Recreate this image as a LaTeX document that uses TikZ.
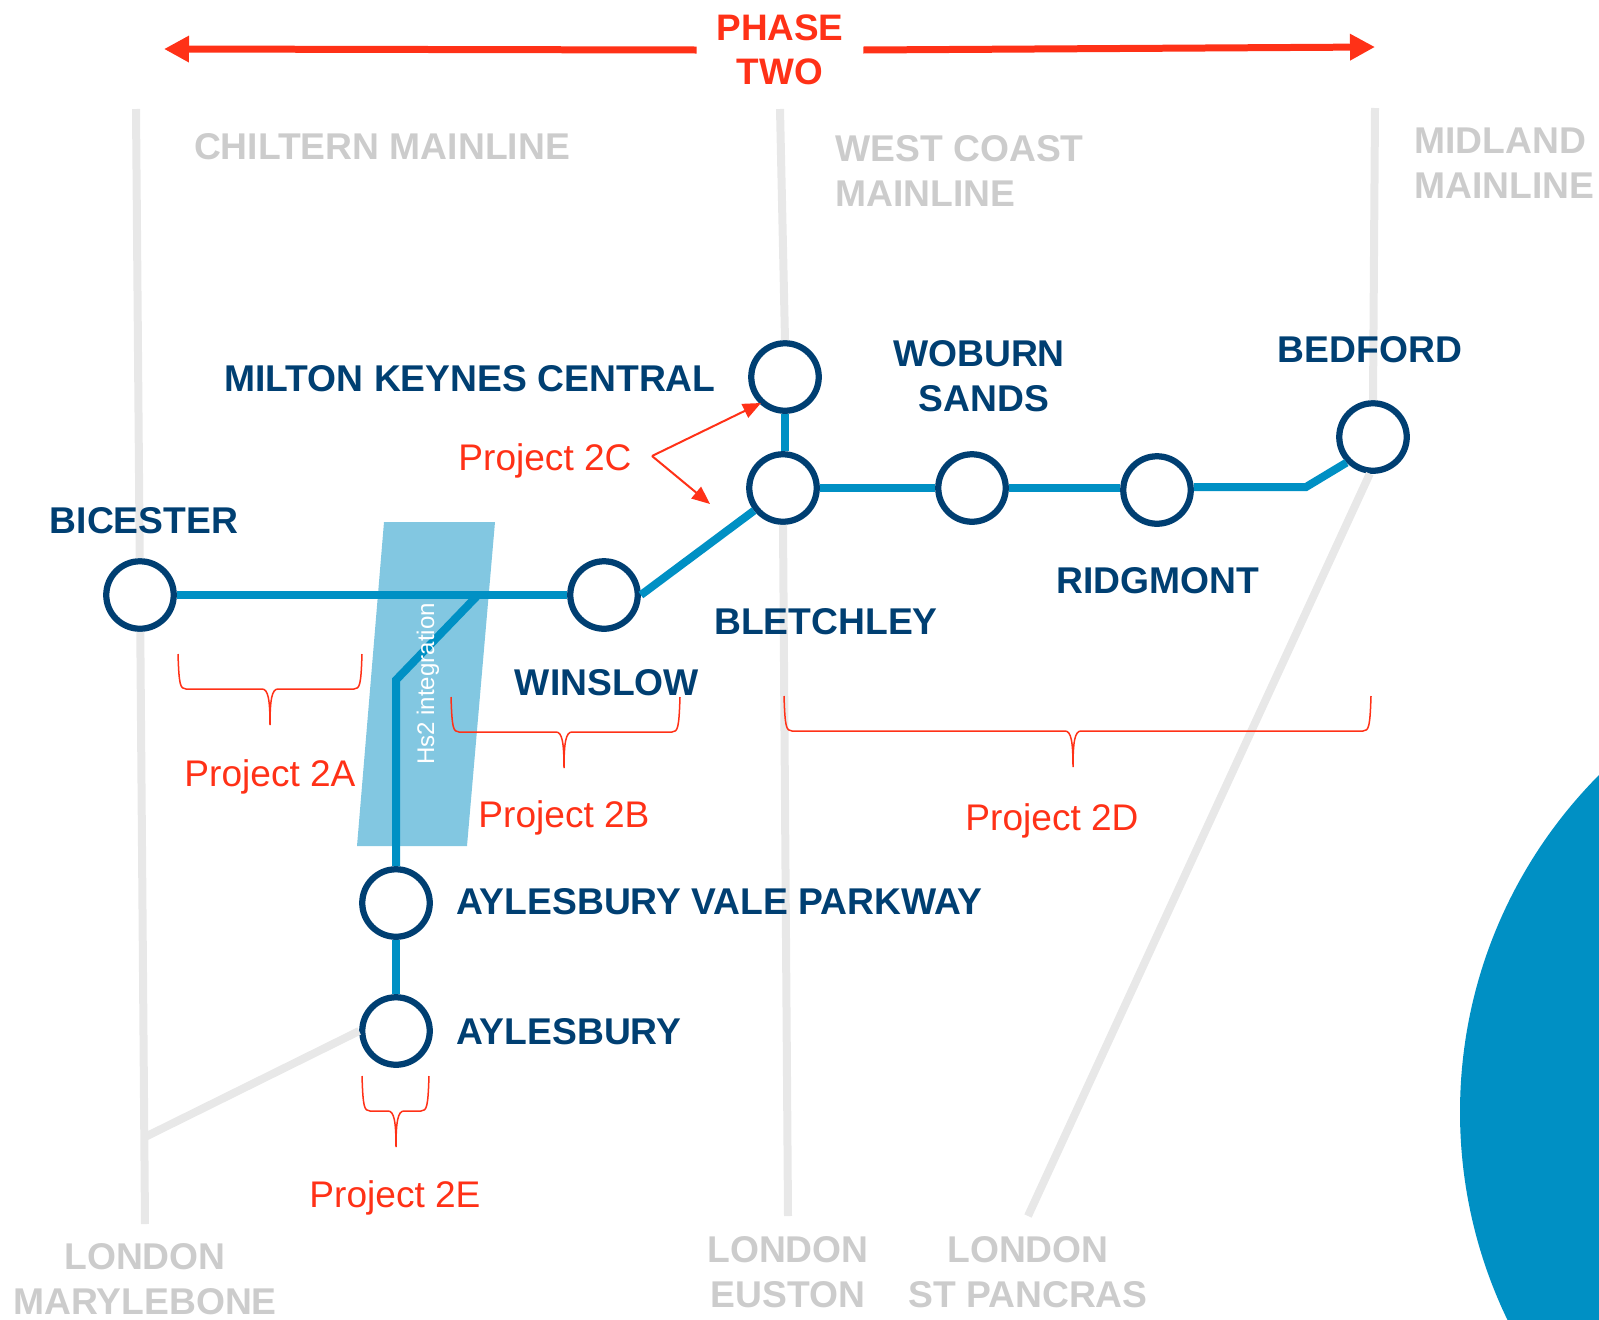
\documentclass[tikz,border=0pt]{standalone}
\usepackage{fontspec}
\setmainfont{Liberation Sans}
\usetikzlibrary{arrows.meta}
\definecolor{navy}{HTML}{003F72}
\definecolor{lineblue}{HTML}{0090C4}
\definecolor{bandblue}{HTML}{82C7E1}
\definecolor{phasered}{HTML}{FF3117}
\definecolor{mainline}{HTML}{E8E8E8}
\definecolor{maintext}{HTML}{CCCCCC}
\newcommand{\projbrace}[4]{%
  \draw[brace] (#1,#4) .. controls ({#1+1},{#4+30}) and ({#1+2},{#4+35}) .. ({#1+8},{#4+35})
    -- ({#2-8},{#4+35}) .. controls ({#2-2},{#4+35}) and (#2,{#4+45}) .. (#2,{#4+71})
    .. controls (#2,{#4+45}) and ({#2+2},{#4+35}) .. ({#2+8},{#4+35})
    -- ({#3-8},{#4+35}) .. controls ({#3-2},{#4+35}) and ({#3-1},{#4+30}) .. (#3,#4);}
\begin{document}
\begin{tikzpicture}
      [x=0.02cm,y=-0.02cm,
       station/.style={circle,draw=navy,fill=white,line width=.125cm,minimum size=1.35cm,inner sep=0pt},
       bluetrack/.style={draw=lineblue,line width=.16cm},
       greytrack/.style={draw=mainline,line width=.16cm},
       phasearrow/.style={draw=phasered,line width=.14cm,-{Triangle[length=.5cm,width=.5cm]}},
       projarrow/.style={draw=phasered,line width=.04cm,-{Triangle[length=.36cm,width=.3cm]}},
       brace/.style={draw=phasered,line width=.03cm},
       namelabel/.style={text=navy,align=center,inner sep=0pt,font=\fontsize{21.2}{25.3}\selectfont\bfseries},
       greylabel/.style={text=maintext,align=center,inner sep=0pt,font=\fontsize{21.2}{25.3}\selectfont\bfseries},
       phaselabel/.style={text=phasered,align=center,inner sep=0pt,minimum width=3.32cm,font=\fontsize{21}{25.3}\selectfont\bfseries},
       projlabel/.style={text=phasered,inner sep=0pt,font=\fontsize{21.1}{25}\selectfont}]
      \useasboundingbox (0,0) rectangle (1599,1319);

      % big corner disc
      \begin{scope}
      \clip (0,0) rectangle (1599,1319);
      \fill[lineblue] (1938,1112) circle [radius=478];
      \end{scope}

      % band under the track
      \fill[bandblue] (384,522) -- (495,522) -- (467,846) -- (357,846) -- cycle;

      \node (bicester) at (140,595) [station] {};
      \node (winslow) at (604,595) [station] {};
      \node (bletchley) at (783,488) [station] {};
      \node (mkcentral) at (785,377) [station] {};
      \node (woburn) at (972,488) [station] {};
      \node (ridgmont) at (1157,490) [station] {};
      \node (bedford) at (1373,437) [station] {};
      \node (avparkway) at (396,903) [station] {};
      \node (aylesbury) at (396,1031) [station] {};

      \coordinate (chilterntop) at (136,109);
      \coordinate (chilternbot) at (145,1224);
      \coordinate (chilternjoin) at (145,1137);
      \coordinate (westtop) at (780,109);
      \coordinate (westbot) at (788,1216);
      \coordinate (midlandtop) at (1375,108);
      \coordinate (pancrasbot) at (1028,1216);
      \coordinate (hsjoin) at (478,595);
      \coordinate (hsbend) at (396,680);
      \coordinate (bedfordbend) at (1306,487);

      % old main lines
      \draw[greytrack] (chilterntop) -- (bicester);
      \draw[greytrack] (bicester) -- (chilternbot);
      \draw[greytrack] (chilternjoin) -- (aylesbury.west);
      \draw[greytrack] (westtop) -- (mkcentral.north);
      \draw[greytrack] (bletchley.south) -- (westbot);
      \draw[greytrack] (midlandtop) -- (bedford.north);
      \draw[greytrack] (bedford.265) -- (pancrasbot);

      % the route
      \draw[bluetrack] (bicester) -- (winslow);
      \draw[bluetrack] (winslow.east) -- (bletchley.218);
      \draw[bluetrack] (mkcentral.south) -- (mkcentral.south |- bletchley.north);
      \draw[bluetrack] (bletchley) -- (woburn);
      \draw[bluetrack] (woburn) -- (ridgmont.west |- woburn);
      \draw[bluetrack] (ridgmont.east |- bedfordbend) -- (bedfordbend) -- (bedford.224);
      \draw[bluetrack] (hsjoin) -- (hsbend) -- (avparkway.north);
      \draw[bluetrack] (avparkway) -- (aylesbury);

      \node (hstext) at (428,684) [text=white,rotate=90,inner sep=0pt,font=\fontsize{13.7}{16}\selectfont] {Hs2 integration};

      \node (phasetwo) at (780,50) [phaselabel] {PHASE\\TWO};
      \coordinate (phaseleft) at (164,49);
      \coordinate (phaseright) at (1375,47);
      \draw[phasearrow] (phasetwo.west) -- (phaseleft);
      \draw[phasearrow] (phasetwo.east) -- (phaseright);

      \node (chilternlabel) at (382,147) [greylabel] {CHILTERN MAINLINE};
      \node (westlabel) at (835,171) [greylabel,anchor=west,align=left] {WEST COAST\\MAINLINE};
      \node (midlandlabel) at (1414,163) [greylabel,anchor=west,align=left] {MIDLAND\\MAINLINE};
      \node (maryleabel) at (145,1279) [greylabel] {LONDON\\MARYLEBONE};
      \node (eustonlabel) at (788,1272) [greylabel] {LONDON\\EUSTON};
      \node (pancraslabel) at (1028,1272) [greylabel] {LONDON\\ST PANCRAS};

      \node (mklabel) at (470,378.5) [namelabel] {MILTON KEYNES CENTRAL};
      \node (woburnlabel) at (979,376) [namelabel] {WOBURN\\\hspace{.2cm}SANDS};
      \node (bedfordlabel) at (1370,350) [namelabel] {BEDFORD};
      \node (bicesterlabel) at (144,521) [namelabel] {BICESTER};
      \node (winslowlabel) at (607,683) [namelabel] {WINSLOW};
      \node (bletchleylabel) at (826,622) [namelabel] {BLETCHLEY};
      \node (ridgmontlabel) at (1158,581) [namelabel] {RIDGMONT};
      \node (avlabel) at (456,901.5) [namelabel,anchor=west] {AYLESBURY VALE PARKWAY};
      \node (aylesburylabel) at (456,1032) [namelabel,anchor=west] {AYLESBURY};

      \node (proj2c) at (545,461) [projlabel] {Project 2C};
      \node (proj2a) at (270,777) [projlabel] {Project 2A};
      \node (proj2b) at (564,818) [projlabel] {Project 2B};
      \node (proj2d) at (1052,821) [projlabel] {Project 2D};
      \node (proj2e) at (395,1198) [projlabel] {Project 2E};

      \coordinate (fork) at (652,456);
      \coordinate (forkup) at (761,403);
      \coordinate (forkdown) at (710,504);
      \draw[projarrow] (fork) -- (forkup);
      \draw[projarrow] (fork) -- (forkdown);

      \projbrace{178}{270}{362}{654}
      \projbrace{451}{564}{680}{697}
      \projbrace{784}{1073}{1371}{696}
      \projbrace{362}{396}{429}{1076}
\end{tikzpicture}
\end{document}
